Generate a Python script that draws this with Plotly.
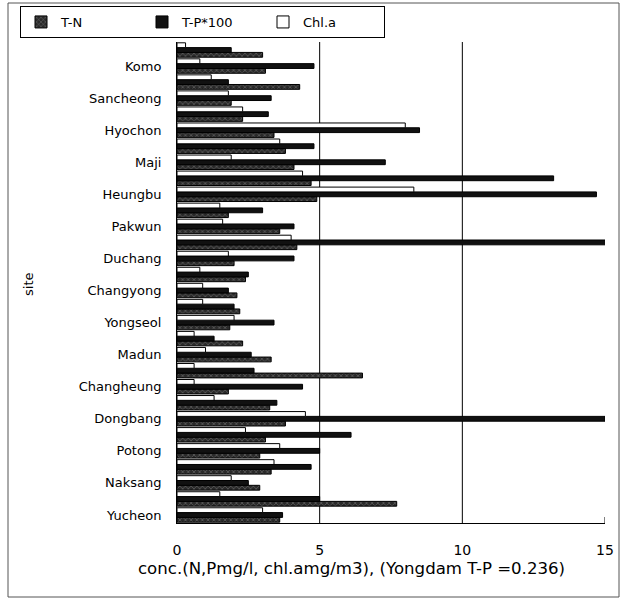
import plotly.graph_objects as go

# Sites listed top to bottom as drawn (unlabelled categories have no tick label)
sites = ["", "Komo", "", "Sancheong", "", "Hyochon", "", "Maji", "", "Heungbu",
         "", "Pakwun", "", "Duchang", "", "Changyong", "", "Yongseol", "", "Madun",
         "", "Changheung", "", "Dongbang", "", "Potong", "", "Naksang", "", "Yucheon"]

tn = [3.0, 3.1, 4.3, 1.9, 2.3, 3.4, 3.8, 4.1, 4.7, 4.9,
      1.8, 3.6, 4.2, 2.0, 2.4, 2.1, 2.2, 1.85, 2.3, 3.3,
      6.5, 1.8, 3.25, 3.8, 3.1, 2.9, 3.3, 2.9, 7.7, 3.6]

tp100 = [1.9, 4.8, 1.8, 3.3, 3.2, 8.5, 4.8, 7.3, 13.2, 14.7,
         3.0, 4.1, 15.2, 4.1, 2.5, 1.8, 2.0, 3.4, 1.3, 2.6,
         2.7, 4.4, 3.5, 15.0, 6.1, 5.0, 4.7, 2.5, 5.0, 3.7]

chla = [0.3, 0.8, 1.2, 1.8, 2.3, 8.0, 3.6, 1.9, 4.4, 8.3,
        1.5, 1.6, 4.0, 1.8, 0.8, 0.9, 0.9, 2.0, 0.6, 1.0,
        0.6, 0.6, 1.3, 4.5, 2.4, 3.6, 3.4, 1.9, 1.5, 3.0]

series_names = ["T-N", "T-P*100", "Chl.a"]
x_ticks = [0, 5, 10, 15]
x_title = "conc.(N,Pmg/l, chl.amg/m3), (Yongdam T-P =0.236)"

n = len(sites)
ypos = [n - 1 - i for i in range(n)]
tickvals = [ypos[i] for i in range(n) if sites[i]]
ticktext = [sites[i] for i in range(n) if sites[i]]

FONT = "DejaVu Sans"

fig = go.Figure()
fig.add_trace(go.Bar(
    x=tn, y=ypos, orientation="h", name=series_names[0],
    marker=dict(color="#3a3a3a", line=dict(color="black", width=1),
                pattern=dict(shape="x", fgcolor="#bbbbbb", bgcolor="#2a2a2a",
                             size=4, solidity=0.25)),
))
fig.add_trace(go.Bar(
    x=tp100, y=ypos, orientation="h", name=series_names[1],
    marker=dict(color="#111111", line=dict(color="black", width=1)),
))
fig.add_trace(go.Bar(
    x=chla, y=ypos, orientation="h", name=series_names[2],
    marker=dict(color="white", line=dict(color="black", width=1)),
))

W, H = 622, 600
ml, mr, mt, mb = 177, 17, 42, 77
pw, ph = W - ml - mr, H - mt - mb

def px_x(p):
    return (p - ml) / pw

def px_y(p):
    return (H - mb - p) / ph

shapes = []
for v in [5, 10]:
    shapes.append(dict(type="line", xref="x", yref="paper", x0=v, x1=v, y0=0, y1=1,
                       line=dict(color="black", width=1), layer="below"))
# outer frame
shapes.append(dict(type="rect", xref="paper", yref="paper",
                   x0=px_x(8), x1=px_x(619), y0=px_y(597), y1=px_y(3),
                   line=dict(color="#555555", width=1)))
# small end tick at right of x axis
shapes.append(dict(type="line", xref="x", yref="paper", x0=15, x1=15, y0=0, y1=px_y(517),
                   line=dict(color="black", width=1)))

fig.update_layout(
    width=W, height=H,
    margin=dict(l=ml, r=mr, t=mt, b=mb, autoexpand=False),
    paper_bgcolor="white", plot_bgcolor="white",
    font=dict(family=FONT, size=13, color="black"),
    barmode="group", bargap=0.1, bargroupgap=0.0,
    showlegend=True,
    legend=dict(orientation="h", x=px_x(20), y=px_y(6), xanchor="left", yanchor="top",
                bordercolor="black", borderwidth=1, bgcolor="white",
                font=dict(family=FONT, size=13), traceorder="normal",
                entrywidth=76, itemwidth=30, tracegroupgap=0,
                itemclick=False),
    xaxis=dict(range=[0, 15], tickvals=x_ticks, showgrid=False, zeroline=False,
               showline=True, linecolor="black", linewidth=1, ticks="",
               ticklabelstandoff=14, tickfont=dict(size=14, family=FONT),
               automargin=False),
    yaxis=dict(range=[-0.5, n - 0.5], tickvals=tickvals, ticktext=ticktext,
               showgrid=False, zeroline=False, showline=True, linecolor="black",
               linewidth=1, ticks="", ticklabelstandoff=12,
               tickfont=dict(size=13, family=FONT), automargin=False),
    shapes=shapes,
    annotations=[
        dict(text=x_title, xref="paper", yref="paper", x=px_x(351), y=px_y(568),
             xanchor="center", yanchor="middle", showarrow=False,
             font=dict(size=16.6, family=FONT)),
        dict(text="site", xref="paper", yref="paper", x=px_x(28), y=px_y(285),
             xanchor="center", yanchor="middle", showarrow=False, textangle=-90,
             font=dict(size=13, family=FONT)),
    ],
)

fig.write_html("out.html",
               config={"displayModeBar": False},
               post_script="document.body.style.margin='0px';document.body.style.overflow='hidden';")
